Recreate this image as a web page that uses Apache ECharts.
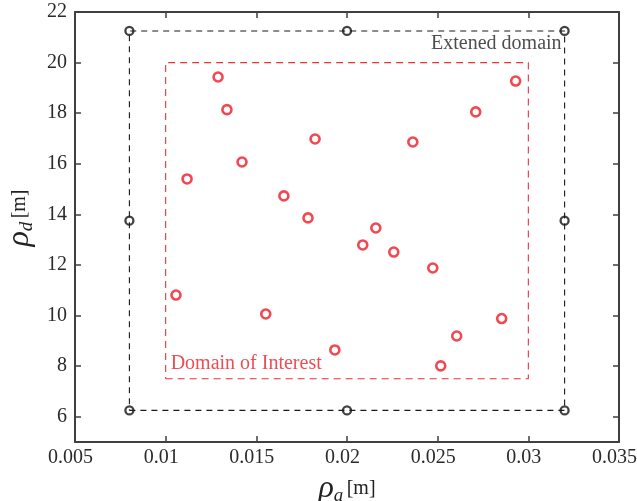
<!DOCTYPE html>
<html><head><meta charset="utf-8">
<script src="https://cdn.jsdelivr.net/npm/echarts@6/dist/echarts.min.js"></script>
<style>html,body{margin:0;padding:0;background:#fff}#c{width:637px;height:501px}</style>
</head><body><div id="c"></div>
<script>
// Data
const xTicks = [0.005, 0.01, 0.015, 0.02, 0.025, 0.03, 0.035];
const yTicks = [6, 8, 10, 12, 14, 16, 18, 20, 22];
const pointsX = [0.01289, 0.01338, 0.01118, 0.01421, 0.01824, 0.01652, 0.01785, 0.02087, 0.02159, 0.02258, 0.02363, 0.0271, 0.0293, 0.02473, 0.01057, 0.01552, 0.01933, 0.02517, 0.02605, 0.02853];
const pointsY = [19.43, 18.14, 15.40, 16.07, 16.98, 14.73, 13.86, 12.79, 13.46, 12.51, 16.86, 18.05, 19.27, 11.88, 10.81, 10.06, 8.64, 8.01, 9.19, 9.88];
const extX = [0.008, 0.02, 0.032];
const extY = [6.25, 13.75, 21.25];
const doiX = [0.01, 0.03];
const doiY = [7.5, 20];
const extLabel = 'Extened domain';
const doiLabel = 'Domain of Interest';

const serif = "'Liberation Serif','DejaVu Serif',serif";
const pts = pointsX.map((x, i) => [x, pointsY[i]]);
const extRect = [[extX[0], extY[0]], [extX[2], extY[0]], [extX[2], extY[2]], [extX[0], extY[2]], [extX[0], extY[0]]];
const doiRect = [[doiX[0], doiY[0]], [doiX[1], doiY[0]], [doiX[1], doiY[1]], [doiX[0], doiY[1]], [doiX[0], doiY[0]]];
const extPts = [];
extX.forEach((x, i) => extY.forEach((y, j) => { if (!(i === 1 && j === 1)) extPts.push([x, y]); }));

const axisLineStyle = { color: '#404040', width: 2 };
const titleRich = {
  rho: { fontFamily: serif, fontStyle: 'italic', fontSize: 32, color: '#222' },
  sub: { fontFamily: serif, fontStyle: 'italic', fontSize: 19, color: '#222', verticalAlign: 'bottom', padding: [14, 0, 0, 0] },
  unit: { fontFamily: serif, fontSize: 20, color: '#222' }
};
function mkX(pos, show) {
  return {
    type: 'value', position: pos, min: 0.005, max: 0.035,
    splitLine: { show: false },
    axisLine: { show: true, onZero: false, lineStyle: axisLineStyle },
    axisTick: { show: true, inside: true, length: 6, customValues: xTicks, lineStyle: { color: '#404040', width: 1.5 } },
    axisLabel: { show: show, customValues: xTicks, formatter: v => String(+v.toFixed(3)), fontFamily: serif, fontSize: 20, color: '#2a2a2a', margin: 6, padding: [0, 9, 0, 0] },
    name: show ? '{rho|ρ}{sub|a} {unit|[m]}' : '',
    nameLocation: 'middle', nameGap: 22,
    nameTextStyle: { rich: titleRich }
  };
}
function mkY(pos, show) {
  return {
    type: 'value', position: pos, min: 5, max: 22,
    splitLine: { show: false },
    axisLine: { show: true, onZero: false, lineStyle: axisLineStyle },
    axisTick: { show: true, inside: true, length: 6, customValues: yTicks, lineStyle: { color: '#404040', width: 1.5 } },
    axisLabel: { show: show, customValues: yTicks, fontFamily: serif, fontSize: 20, color: '#2a2a2a', margin: 8 },
    name: show ? '{rho|ρ}{sub|d} {unit|[m]}' : '',
    nameLocation: 'middle', nameGap: 32, nameRotate: 90,
    nameTextStyle: { rich: titleRich, padding: [0, 0, 0, 18] }
  };
}

const chart = echarts.init(document.getElementById('c'), null, { renderer: 'canvas' });
chart.setOption({
  animation: false,
  backgroundColor: '#fff',
  grid: { left: 75, right: 18, top: 12, bottom: 59, containLabel: false, outerBoundsMode: 'none' },
  xAxis: [mkX('bottom', true), mkX('top', false)],
  yAxis: [mkY('left', true), mkY('right', false)],
  series: [
    { type: 'line', data: extRect, symbol: 'none', lineStyle: { color: '#1a1a1a', width: 1.1, type: [6, 5] }, silent: true },
    { type: 'line', data: doiRect, symbol: 'none', lineStyle: { color: '#e8323a', width: 1.1, type: [7, 5] }, silent: true },
    { type: 'scatter', data: extPts, symbol: 'circle', symbolSize: 8,
      itemStyle: { color: 'rgba(255,255,255,0)', borderColor: '#111', borderWidth: 2.3 } },
    { type: 'scatter', data: pts, symbol: 'circle', symbolSize: 9,
      itemStyle: { color: 'rgba(255,255,255,0)', borderColor: '#ec1c26', borderWidth: 2.6 } },
    { type: 'scatter', data: [[extX[2], 20.75]], symbolSize: 0,
      label: { show: true, position: 'left', distance: 3, formatter: extLabel, fontFamily: serif, fontSize: 20, color: '#222' } },
    { type: 'scatter', data: [[doiX[0], 8.1]], symbolSize: 0,
      label: { show: true, position: 'right', distance: 5, formatter: doiLabel, fontFamily: serif, fontSize: 20, color: '#e8202a' } }
  ]
});
</script></body></html>
